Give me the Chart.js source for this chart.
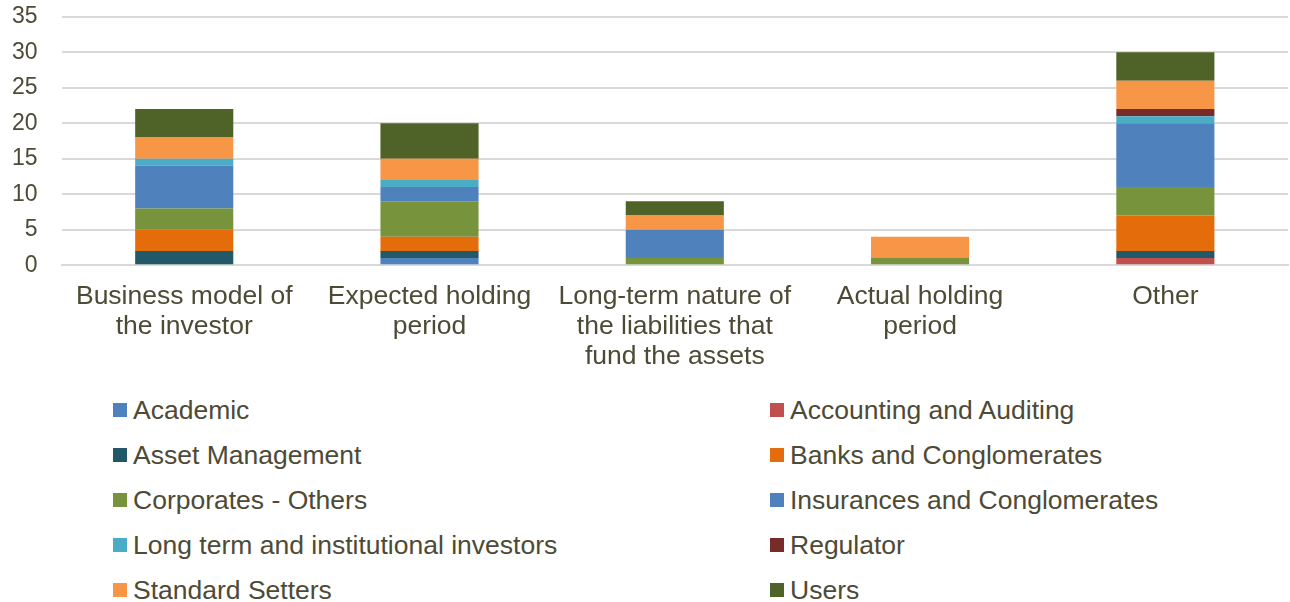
<!DOCTYPE html>
<html>
<head>
<meta charset="utf-8">
<script src="https://cdn.jsdelivr.net/npm/chart.js@4/dist/chart.umd.min.js"></script>
<style>
  html, body { margin: 0; padding: 0; background: #fff; }
  body { width: 1290px; height: 602px; overflow: hidden; font-family: "Liberation Sans", Arial, sans-serif; position: relative; }
  #wrap { position: absolute; left: -24px; top: -21px; width: 1315px; height: 410px; }
  #legend { position: absolute; left: 0; top: 395px; width: 1290px; }
  .lg-item { position: absolute; display: flex; align-items: center; height: 30px; font-size: 26.5px; color: #4D4A35; white-space: nowrap; }
  .lg-box { width: 14px; height: 14px; margin-right: 6px; }
</style>
</head>
<body>
<div id="wrap"><canvas id="c"></canvas></div>
<div id="legend"></div>
<script>
// ── Data ──────────────────────────────────────────────────────────────────────
const categories = [
  ['Business model of', 'the investor'],
  ['Expected holding', 'period'],
  ['Long-term nature of', 'the liabilities that', 'fund the assets'],
  ['Actual holding', 'period'],
  'Other'
];
const yTicks = [0, 5, 10, 15, 20, 25, 30, 35];

const academic      = [0, 1, 0, 0, 0];
const accounting    = [0, 0, 0, 0, 1];
const assetMgmt     = [2, 1, 0, 0, 1];
const banks         = [3, 2, 0, 0, 5];
const corporates    = [3, 5, 1, 1, 4];
const insurances    = [6, 2, 4, 0, 9];
const longTerm      = [1, 1, 0, 0, 1];
const regulator     = [0, 0, 0, 0, 1];
const stdSetters    = [3, 3, 2, 3, 4];
const users         = [4, 5, 2, 0, 4];

const seriesNames = ['Academic', 'Accounting and Auditing', 'Asset Management', 'Banks and Conglomerates',
  'Corporates - Others', 'Insurances and Conglomerates', 'Long term and institutional investors',
  'Regulator', 'Standard Setters', 'Users'];
const seriesData = [academic, accounting, assetMgmt, banks, corporates, insurances, longTerm, regulator, stdSetters, users];
const seriesColors = ['#4F81BD', '#C0504D', '#215968', '#E46C0A', '#77933C', '#4F81BD', '#4BACC6', '#772C2A', '#F79646', '#4F6228'];

// ── Chart ─────────────────────────────────────────────────────────────────────
const textColor = '#4D4A35';
const chart = new Chart(document.getElementById('c'), {
  type: 'bar',
  data: {
    labels: categories,
    datasets: seriesNames.map((n, i) => ({
      label: n,
      data: seriesData[i],
      backgroundColor: seriesColors[i],
      borderWidth: 0,
      barPercentage: 0.4,
      categoryPercentage: 1
    }))
  },
  options: {
    responsive: true,
    maintainAspectRatio: false,
    animation: false,
    layout: { padding: { left: 12, right: 3, top: 6, bottom: 0 } },
    plugins: { legend: { display: false }, tooltip: { enabled: false } },
    scales: {
      x: {
        stacked: true,
        grid: { display: false, drawTicks: false },
        border: { display: true, color: '#D9D9D9', width: 2 },
        ticks: { color: textColor, font: { family: '"Liberation Sans", Arial', size: 26.5, lineHeight: 1.13 }, padding: 17, maxRotation: 0, autoSkip: false }
      },
      y: {
        stacked: true,
        min: 0, max: 35,
        afterBuildTicks: ax => { ax.ticks = yTicks.map(v => ({ value: v })); },
        grid: { color: '#D9D9D9', lineWidth: 2, drawTicks: false },
        border: { display: false },
        ticks: { color: textColor, font: { family: '"Liberation Sans", Arial', size: 23 }, padding: 24 }
      }
    }
  }
});

// ── Legend ────────────────────────────────────────────────────────────────────
const legendEl = document.getElementById('legend');
const colX = [113, 770], rowH = 45;
legendEl.innerHTML = seriesNames.map((n, i) => {
  const x = colX[i % 2], y = Math.floor(i / 2) * rowH;
  return `<div class="lg-item" style="left:${x}px;top:${y}px"><span class="lg-box" style="background:${seriesColors[i]}"></span>${n}</div>`;
}).join('');
</script>
</body>
</html>
